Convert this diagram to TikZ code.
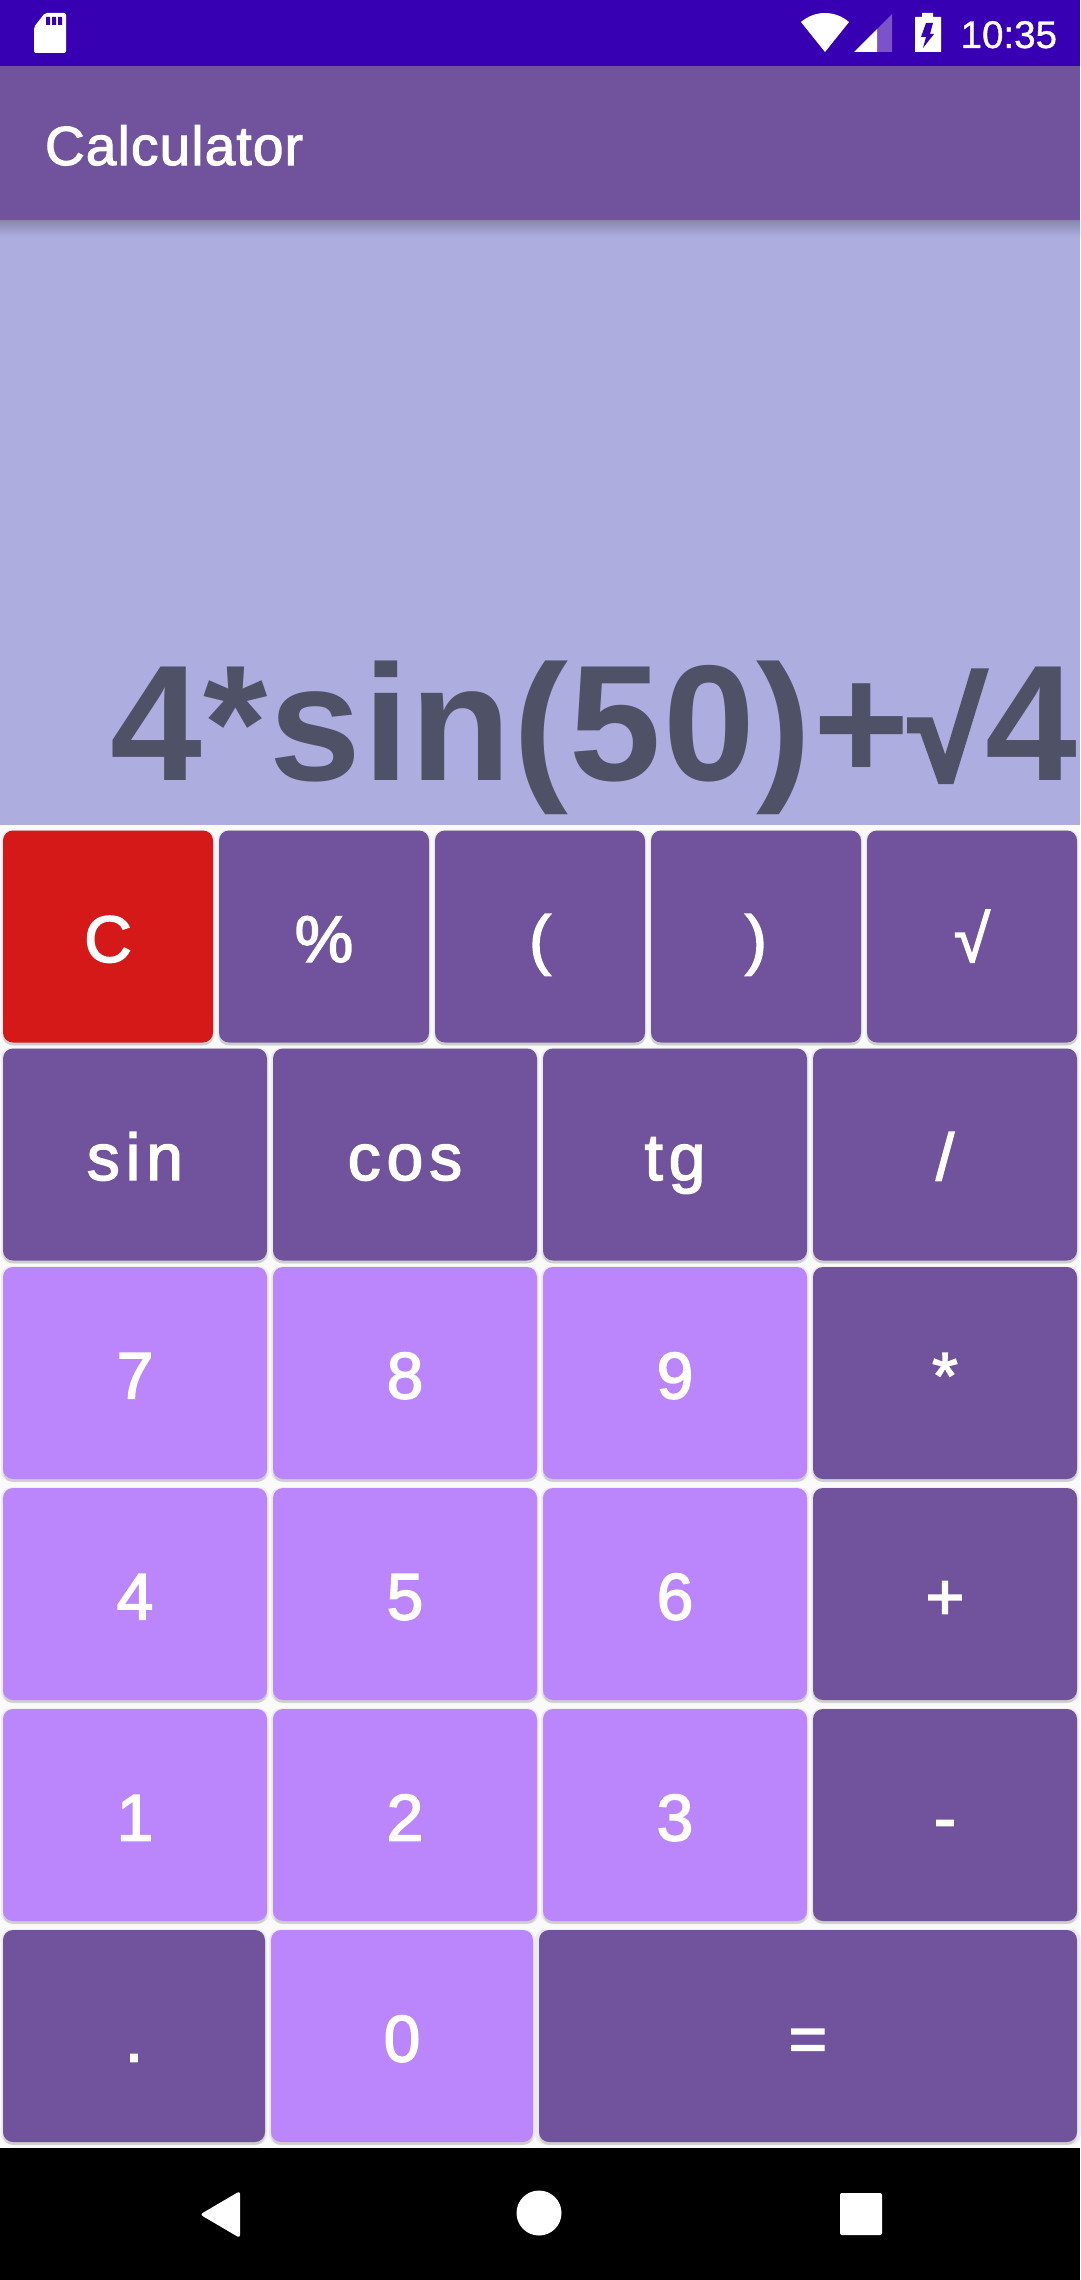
\documentclass[tikz,border=0pt]{standalone}
\usepackage{fontspec}
\setmainfont{Liberation Sans}
\usetikzlibrary{shadows}
\newfontfamily\keyfont[FakeBold=2.2]{Liberation Sans}
\newfontfamily\wordfont[FakeBold=2.2,LetterSpace=9]{Liberation Sans}
\newfontfamily\titlefont[FakeBold=2,LetterSpace=2.1]{Liberation Sans}
\newfontfamily\clockfont[FakeBold=1]{Liberation Sans}
\newfontfamily\exprfont[LetterSpace=1]{Liberation Sans Bold}
\newfontfamily\rootfont[FakeBold=3.5]{Liberation Sans Bold}
\definecolor{statusblue}{HTML}{3700B3}
\definecolor{darkpurple}{HTML}{71529D}
\definecolor{lightpurple}{HTML}{BB86FC}
\definecolor{displayblue}{HTML}{ADADDF}
\definecolor{displaytext}{HTML}{4F5167}
\definecolor{clearred}{HTML}{D51919}
\definecolor{pagegray}{HTML}{FAFAFA}
\definecolor{signalpurple}{HTML}{7B52C8}
\tikzset{
  key/.style={rounded corners=10pt,text=white,font=\keyfont\fontsize{66}{66}\selectfont,
    text height=59pt,text depth=8pt,text centered,minimum height=212pt,
    drop shadow={shadow xshift=0pt,shadow yshift=-3pt,opacity=.12,fill=black},
    drop shadow={shadow xshift=0pt,shadow yshift=-1pt,shadow scale=1.015,opacity=.06,fill=black}},
  op/.style={key,fill=darkpurple},
  digit/.style={key,fill=lightpurple},
  wordkey/.style={op,font=\wordfont\fontsize{66}{66}\selectfont},
  five/.style={minimum width=210pt},
  four/.style={minimum width=264pt},
  band/.style={minimum width=1080pt}
}
\begin{document}
\begin{tikzpicture}[x=1pt,y=-1pt,every node/.style={inner sep=0pt,outer sep=0pt}]
  \useasboundingbox (0,0) rectangle (1080,2280);
  \draw
    (540,1140) node[band,fill=pagegray,minimum height=2280pt] (page) {}
    (540,412.5) node[band,fill=displayblue,minimum height=825pt] (display) {}
    (540,228) node[band,top color=displayblue!78!black,bottom color=displayblue,minimum height=16pt] (appshadow) {}
    (540,143) node[band,fill=darkpurple,minimum height=154pt] (appbar) {}
    (540,33) node[band,fill=statusblue,minimum height=66pt] (statusbar) {};
  \draw
    (45,165) node[anchor=base west,text=white,font=\titlefont\fontsize{55}{55}\selectfont] (title) {Calculator}
    (1057,48) node[anchor=base east,text=white,font=\clockfont\fontsize{38.5}{38.5}\selectfont] (clock) {10:35}
    (1077,780) node[anchor=base east,text=displaytext,font=\exprfont\fontsize{165}{165}\selectfont] (expr) {4*sin(50)+{\rootfont\fontsize{138}{138}\selectfont √}4};
  \fill[white,rounded corners=2pt] (34,53) -- (34,27) -- (45,13) -- (66,13) -- (66,53) -- cycle;
  \fill[statusblue]
    (46,17) rectangle (50,25)
    (52,17) rectangle (56,25)
    (58,17) rectangle (62,25);
  \fill[white] (825,52) -- (801,22) .. controls (815,10) and (835,10) .. (849,22) -- cycle;
  \fill[signalpurple] (877,29) -- (892,14) -- (892,52) -- (877,52) -- cycle;
  \fill[white] (854,52) -- (877,29) -- (877,52) -- cycle;
  \fill[white] (915,52) -- (915,17) -- (922,17) -- (922,13) -- (933,13) -- (933,17) -- (941,17) -- (941,52) -- cycle;
  \fill[statusblue] (926,23) -- (933,23) -- (930,34) -- (934,34) -- (923,48) -- (926,37) -- (921,37) -- cycle;
  \draw
    (108,936.5) node[key,five,fill=clearred] (keyC) {C}
    (324,936.5) node[op,five] (keyPercent) {\%}
    (540,936.5) node[op,five] (keyOpen) {(}
    (756,936.5) node[op,five] (keyClose) {)}
    (972,936.5) node[op,five] (keyRoot) {√};
  \draw
    (135,1154.5) node[wordkey,four] (keySin) {sin}
    (405,1154.5) node[wordkey,four] (keyCos) {cos}
    (675,1154.5) node[wordkey,four] (keyTg) {tg}
    (945,1154.5) node[op,four] (keyDiv) {/};
  \draw
    (135,1373) node[digit,four] (key7) {7}
    (405,1373) node[digit,four] (key8) {8}
    (675,1373) node[digit,four] (key9) {9}
    (945,1373) node[op,four] (keyTimes) {*};
  \draw
    (135,1594) node[digit,four] (key4) {4}
    (405,1594) node[digit,four] (key5) {5}
    (675,1594) node[digit,four] (key6) {6}
    (945,1594) node[op,four] (keyPlus) {+};
  \draw
    (135,1815) node[digit,four] (key1) {1}
    (405,1815) node[digit,four] (key2) {2}
    (675,1815) node[digit,four] (key3) {3}
    (945,1815) node[op,four] (keyMinus) {-};
  \draw
    (134,2036) node[op,minimum width=262pt] (keyDot) {.}
    (402,2036) node[digit,minimum width=262pt] (key0) {0}
    (808,2036) node[op,minimum width=538pt] (keyEquals) {=};
  \draw
    (540,2214) node[band,fill=black,minimum height=132pt] (navbar) {}
    (539,2213) node[circle,fill=white,minimum size=45pt] (navhome) {}
    (861,2214) node[fill=white,rounded corners=2pt,minimum width=42pt,minimum height=42pt] (navrecent) {};
  \fill[white,rounded corners=3pt] (240,2191) -- (240,2238) -- (200,2214.5) -- cycle;
\end{tikzpicture}
\end{document}
